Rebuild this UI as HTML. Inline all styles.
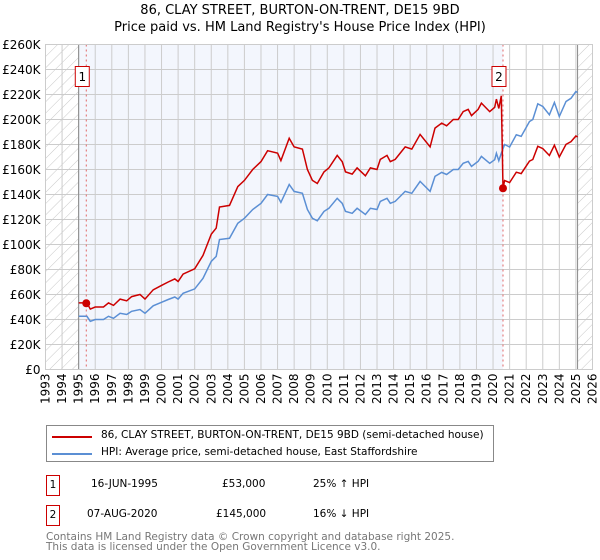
<!DOCTYPE html>
<html><head><meta charset="utf-8"><style>
body{margin:0;background:#fff;font-family:"DejaVu Sans","Liberation Sans",sans-serif;}
#wrap{position:relative;width:600px;height:560px;overflow:hidden;}
.t{position:absolute;font-size:10.5px;color:#000;white-space:nowrap;}
</style></head><body><div id="wrap">
<svg id="chart" width="600" height="420" style="position:absolute;left:0;top:0" font-family="DejaVu Sans, Liberation Sans, sans-serif">
<defs><pattern id="hatch" patternUnits="userSpaceOnUse" width="8" height="8" patternTransform="rotate(45)"><line x1="0" y1="0" x2="0" y2="8" stroke="#c8c8c8" stroke-width="1"/></pattern></defs>
<text x="300" y="14" text-anchor="middle" font-size="13">86, CLAY STREET, BURTON-ON-TRENT, DE15 9BD</text>
<text x="300" y="31" text-anchor="middle" font-size="13">Price paid vs. HM Land Registry's House Price Index (HPI)</text>
<g id="plot"></g>
</svg>
<div style="position:absolute;left:46px;top:425px;width:446px;height:35px;border:1px solid #888;">
<div style="position:absolute;left:5px;top:10px;width:40px;height:2px;background:#cc0000"></div>
<div class="t" style="left:54px;top:3px">86, CLAY STREET, BURTON-ON-TRENT, DE15 9BD (semi-detached house)</div>
<div style="position:absolute;left:5px;top:27px;width:40px;height:2px;background:#5b8fd4"></div>
<div class="t" style="left:54px;top:20px">HPI: Average price, semi-detached house, East Staffordshire</div>
</div>
<div style="position:absolute;left:46px;top:475px;width:12px;height:19px;border:1px solid #cc0000;font-size:10.5px;text-align:center;line-height:19px">1</div>
<div class="t" style="left:91px;top:478px">16-JUN-1995</div>
<div class="t" style="left:222px;top:478px">£53,000</div>
<div class="t" style="left:313px;top:478px">25% ↑ HPI</div>
<div style="position:absolute;left:46px;top:505px;width:12px;height:19px;border:1px solid #cc0000;font-size:10.5px;text-align:center;line-height:19px">2</div>
<div class="t" style="left:87px;top:508px">07-AUG-2020</div>
<div class="t" style="left:216px;top:508px">£145,000</div>
<div class="t" style="left:313px;top:508px">16% ↓ HPI</div>
<div class="t" style="left:46px;top:532px;color:#777;line-height:10px">Contains HM Land Registry data © Crown copyright and database right 2025.<br>This data is licensed under the Open Government Licence v3.0.</div>
</div>
<script>
const hpiYears=[1995.0,1995.5,1995.7,1996.0,1996.5,1996.8,1997.1,1997.5,1997.9,1998.2,1998.7,1999.0,1999.5,2000.0,2000.4,2000.8,2001.0,2001.3,2002.0,2002.5,2003.0,2003.3,2003.5,2004.1,2004.6,2005.0,2005.5,2006.0,2006.4,2007.0,2007.2,2007.7,2008.0,2008.5,2008.8,2009.1,2009.4,2009.8,2010.1,2010.6,2010.9,2011.1,2011.5,2011.8,2012.3,2012.6,2013.0,2013.2,2013.6,2013.8,2014.1,2014.4,2014.7,2015.1,2015.6,2016.2,2016.5,2016.9,2017.2,2017.6,2017.9,2018.2,2018.5,2018.7,2019.1,2019.3,2019.8,2020.1,2020.2,2020.35,2020.5,2020.7,2021.0,2021.4,2021.7,2022.2,2022.4,2022.7,2023.0,2023.4,2023.7,2024.0,2024.4,2024.7,2025.0,2025.1];
const hpiValues=[42.6,42.6,38.6,40,40,42.6,41,45,44,46.6,48,45,51,53.8,56,58,56.3,61,64.5,73,86.6,90.5,104,105,117,121,128,133,140,138.5,133.7,148,142.5,141,128,121,119,126.5,129,137,133,126.5,125,129,124,129,128,134.5,137,133,134.5,138.5,142.5,141,150.5,142.5,154.5,157.7,156,160,160,165,166.5,162.5,166.5,170.5,165,167.8,173,167,173,180,178,187.8,186.5,198.4,200,212.6,210.4,203.8,213.6,202.4,214.4,217,222.4,221.6];
const priceYears=[1995.0,1995.5,1995.7,1996.0,1996.5,1996.8,1997.1,1997.5,1997.9,1998.2,1998.7,1999.0,1999.5,2000.0,2000.4,2000.8,2001.0,2001.3,2002.0,2002.5,2003.0,2003.3,2003.5,2004.1,2004.6,2005.0,2005.5,2006.0,2006.4,2007.0,2007.2,2007.7,2008.0,2008.5,2008.8,2009.1,2009.4,2009.8,2010.1,2010.6,2010.9,2011.1,2011.5,2011.8,2012.3,2012.6,2013.0,2013.2,2013.6,2013.8,2014.1,2014.4,2014.7,2015.1,2015.6,2016.2,2016.5,2016.9,2017.2,2017.6,2017.9,2018.2,2018.5,2018.7,2019.1,2019.3,2019.8,2020.1,2020.2,2020.35,2020.5,2020.6,2020.7,2021.0,2021.4,2021.7,2022.2,2022.4,2022.7,2023.0,2023.4,2023.7,2024.0,2024.4,2024.7,2025.0,2025.1];
const priceValues=[53.3,53.3,48.3,50,50,53.3,51.3,56.3,55,58.3,60,56.3,63.8,67.3,70,72.5,70.4,76.3,80.6,91.3,108.3,113.1,130,131.3,146.3,151.3,160,166.3,175,173.1,167.1,185,178.1,176.3,160,151.3,148.8,158.1,161.3,171.3,166.3,158.1,156.3,161.3,155,161.3,160,168.1,171.3,166.3,168.1,173.1,178.1,176.3,188.1,178.1,193.1,197.1,195,200,200,206.3,208.1,203.1,208.1,213.1,206.3,209.8,216.3,208.8,219,145,151.2,149.5,157.8,156.7,166.7,168,178.6,176.7,171.2,179.4,170,180.1,182.3,186.8,186.1];
const saleYears=[1995.46,2020.6];
const saleValues=[53,145];
const saleLabels=["1","2"];
const yTicks=[0,20,40,60,80,100,120,140,160,180,200,220,240,260];
const yTickLabels=["£0","£20K","£40K","£60K","£80K","£100K","£120K","£140K","£160K","£180K","£200K","£220K","£240K","£260K"];
const xTicks=[1993,1994,1995,1996,1997,1998,1999,2000,2001,2002,2003,2004,2005,2006,2007,2008,2009,2010,2011,2012,2013,2014,2015,2016,2017,2018,2019,2020,2021,2022,2023,2024,2025,2026];

const L=45.5,R=592.5,T=44.5,B=369.5,X0=1993,X1=2026,YMAX=260;
const sx=y=>L+(y-X0)/(X1-X0)*(R-L);
const sy=v=>B-v/YMAX*(B-T);
const NS="http://www.w3.org/2000/svg";
const g=document.getElementById('plot');
function mk(tag,attrs){const e=document.createElementNS(NS,tag);for(const k in attrs)e.setAttribute(k,attrs[k]);g.appendChild(e);return e;}
let e;
e=mk('rect',{x:L,y:T,width:R-L,height:B-T,fill:'#fff'});


e=mk('rect',{x:sx(1995),y:T,width:sx(saleYears[1])-sx(1995),height:B-T,fill:'#f3f6fd'});


e=mk('rect',{x:L,y:T,width:sx(1995)-L,height:B-T,fill:'url(#hatch)'});


e=mk('rect',{x:sx(2025.1),y:T,width:R-sx(2025.1),height:B-T,fill:'url(#hatch)'});


xTicks.forEach((yr,i)=>{
  const x=sx(yr);
  e=mk('line',{x1:x,y1:T,x2:x,y2:B,stroke:'#cccccc','stroke-width':1});
  
  
  e=mk('text',{x:0,y:0,'font-size':12,'text-anchor':'end',transform:`translate(${x+4},${B+4}) rotate(-90)`});
  e.textContent=yr;
  
  
});
yTicks.forEach((v,i)=>{
  const y=sy(v);
  e=mk('line',{x1:L,y1:y,x2:R,y2:y,stroke:'#cccccc','stroke-width':1});
  
  
  e=mk('text',{x:L-5,y:y+4.5,'font-size':12,'text-anchor':'end'});
  e.textContent=yTickLabels[i];
  
  
});
[1995,2025.1].forEach(yr=>{
  e=mk('line',{x1:sx(yr),y1:T,x2:sx(yr),y2:B,stroke:'#888','stroke-width':1});
  
  
});
saleYears.forEach(yr=>{
  e=mk('line',{x1:sx(yr),y1:T,x2:sx(yr),y2:B,stroke:'#e06666','stroke-width':1,'stroke-dasharray':'2,3'});
  
  
});
const pts=(xs,vs)=>xs.map((x,i)=>sx(x).toFixed(1)+','+sy(vs[i]).toFixed(1)).join(' ');
e=mk('polyline',{points:pts(hpiYears,hpiValues),fill:'none',stroke:'#5b8fd4','stroke-width':1.5});


e=mk('polyline',{points:pts(priceYears,priceValues),fill:'none',stroke:'#cc0000','stroke-width':1.5});


saleYears.forEach((yr,i)=>{
  e=mk('circle',{cx:sx(yr),cy:sy(saleValues[i]),r:4,fill:'#cc0000'});
  
  
  const bx=sx(yr)-11;
  e=mk('rect',{x:bx,y:66.5,width:14,height:20,fill:'#fff',stroke:'#cc0000','stroke-width':1});
  
  
  e=mk('text',{x:bx+7,y:81,'font-size':12,'text-anchor':'middle'});
  e.textContent=saleLabels[i];
  
  
});
e=mk('rect',{x:L,y:T,width:R-L,height:B-T,fill:'none',stroke:'#cccccc','stroke-width':1});


</script>
</body></html>
